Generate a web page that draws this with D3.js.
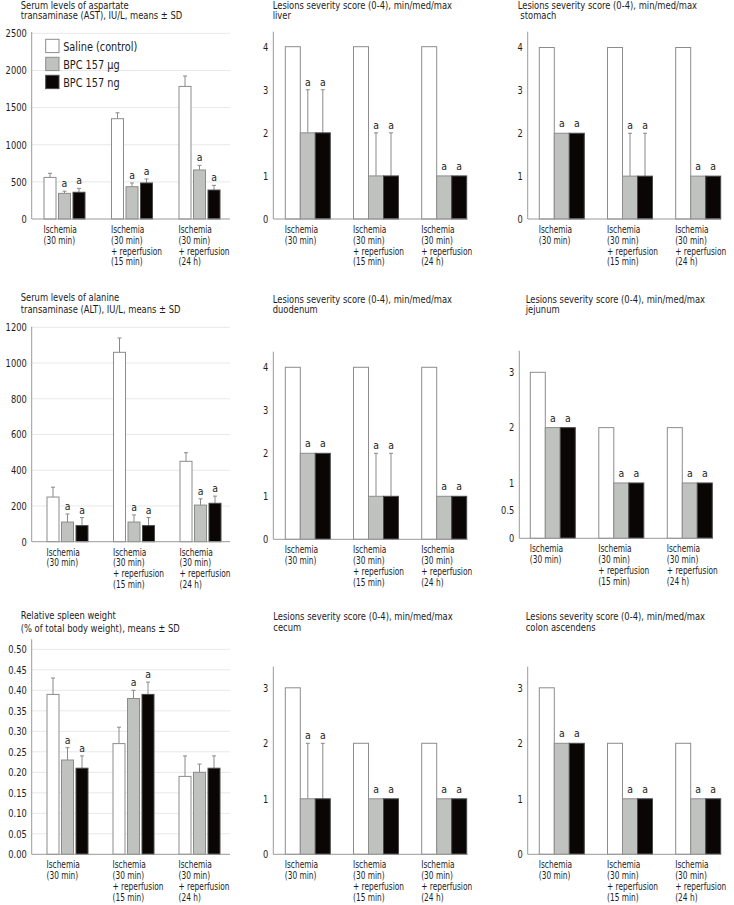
<!DOCTYPE html>
<html>
<head>
<meta charset="utf-8">
<script src="https://cdn.jsdelivr.net/npm/d3@7"></script>
<style>
  body { margin: 0; background: #fff; }
  svg { display: block; }
  text { font-family: "DejaVu Sans", Verdana, sans-serif; fill: #1c1c1c; white-space: pre; }
</style>
</head>
<body>
<svg id="chart" width="734" height="905"></svg>
<script>
// ---- data ----
const groups = ["g1", "g2", "g3"];
const groupLabels = [
  ["Ischemia", "(30 min)"],
  ["Ischemia", "(30 min)", "+ reperfusion", "(15 min)"],
  ["Ischemia", "(30 min)", "+ reperfusion", "(24 h)"]
];
const seriesNames = ["Saline (control)", "BPC 157 μg", "BPC 157 ng"];

// AST, IU/L, means ± SD
const astSaline = [560, 1350, 1785];
const astSalineSD = [55, 80, 140];
const astUg = [345, 435, 660];
const astUgSD = [30, 50, 62];
const astNg = [360, 485, 390];
const astNgSD = [52, 54, 63];
const astTicks = [0, 500, 1000, 1500, 2000, 2500];

// ALT, IU/L, means ± SD
const altSaline = [250, 1060, 450];
const altSalineSD = [55, 80, 48];
const altUg = [110, 110, 205];
const altUgSD = [45, 40, 35];
const altNg = [90, 90, 215];
const altNgSD = [45, 45, 40];
const altTicks = [0, 200, 400, 600, 800, 1000, 1200];

// relative spleen weight, means ± SD
const spleenSaline = [0.39, 0.27, 0.19];
const spleenSalineSD = [0.04, 0.04, 0.05];
const spleenUg = [0.23, 0.38, 0.20];
const spleenUgSD = [0.03, 0.02, 0.02];
const spleenNg = [0.21, 0.39, 0.21];
const spleenNgSD = [0.03, 0.03, 0.03];
const spleenTicks = [0, 0.05, 0.10, 0.15, 0.20, 0.25, 0.30, 0.35, 0.40, 0.45, 0.50];

// lesion scores, median and max
const liverSaline = [4, 4, 4];
const liverUg = [2, 1, 1];
const liverUgMax = [3, 2, 1];
const liverNg = [2, 1, 1];
const liverNgMax = [3, 2, 1];

const stomachSaline = [4, 4, 4];
const stomachUg = [2, 1, 1];
const stomachUgMax = [2, 2, 1];
const stomachNg = [2, 1, 1];
const stomachNgMax = [2, 2, 1];

const duodenumSaline = [4, 4, 4];
const duodenumUg = [2, 1, 1];
const duodenumUgMax = [2, 2, 1];
const duodenumNg = [2, 1, 1];
const duodenumNgMax = [2, 2, 1];

const jejunumSaline = [3, 2, 2];
const jejunumUg = [2, 1, 1];
const jejunumNg = [2, 1, 1];

const cecumSaline = [3, 2, 2];
const cecumUg = [1, 1, 1];
const cecumUgMax = [2, 1, 1];
const cecumNg = [1, 1, 1];
const cecumNgMax = [2, 1, 1];

const colonSaline = [3, 2, 2];
const colonUg = [2, 1, 1];
const colonNg = [2, 1, 1];

const score4Ticks = [0, 1, 2, 3, 4];
const score3Ticks = [0, 1, 2, 3];
const jejunumTicks = [0, 0.5, 1, 2, 3];

// which bars carry the "a" mark (per group: saline, μg, ng)
const marksAll = [[0, 1, 1], [0, 1, 1], [0, 1, 1]];
const marksSpleen = [[0, 1, 1], [0, 1, 1], [0, 0, 0]];

const fills = ["#ffffff", "#c0c2c0", "#0a0606"];
const strokes = ["#8c8c8c", "#8c8c8c", "#4a4a4a"];

// ---- layout ----
const lesionTitle = "Lesions severity score (0-4), min/med/max";
const panels = [
  { title: ["Serum levels of aspartate", "transaminase (AST), IU/L, means ± SD"], tx: 20.7, ty: [8.5, 19.5],
    ax: 31.7, xEnd: 230, y0: 219, yTop: 33.3, axisTop: 32, max: 2500, ticks: astTicks, fmt: d3.format("d"), grid: true,
    gx: [44, 220], bw: 12, gap: 2.5, kind: "sd",
    vals: [astSaline, astUg, astNg], err: [astSalineSD, astUgSD, astNgSD], marks: marksAll, legend: true },
  { title: [lesionTitle, "liver"], tx: 272.7, ty: [9, 19.5],
    ax: 273.3, xEnd: 467.7, y0: 219, yTop: 46.7, axisTop: 31.7, max: 4, ticks: score4Ticks, fmt: d3.format("d"),
    gx: [285.3, 466.7], bw: 15, gap: 0, kind: "range",
    vals: [liverSaline, liverUg, liverNg], err: [liverSaline, liverUgMax, liverNgMax], marks: marksAll },
  { title: [lesionTitle, " stomach"], tx: 517.7, ty: [9, 19.5],
    ax: 527.7, xEnd: 720.7, y0: 219, yTop: 47.5, axisTop: 31.7, max: 4, ticks: score4Ticks, fmt: d3.format("d"),
    gx: [539.3, 720.7], bw: 15, gap: 0, kind: "range",
    vals: [stomachSaline, stomachUg, stomachNg], err: [stomachSaline, stomachUgMax, stomachNgMax], marks: marksAll },
  { title: ["Serum levels of alanine", "transaminase (ALT), IU/L, means ± SD"], tx: 20.7, ty: [301.5, 313],
    ax: 31.7, xEnd: 230, y0: 541.7, yTop: 327.3, axisTop: 326.7, max: 1200, ticks: altTicks, fmt: d3.format("d"), grid: true,
    gx: [47, 221], bw: 12, gap: 2.5, kind: "sd",
    vals: [altSaline, altUg, altNg], err: [altSalineSD, altUgSD, altNgSD], marks: marksAll },
  { title: [lesionTitle, "duodenum"], tx: 272.7, ty: [303, 313.5],
    ax: 273.3, xEnd: 467.7, y0: 539.3, yTop: 367.3, axisTop: 351.7, max: 4, ticks: score4Ticks, fmt: d3.format("d"),
    gx: [285.3, 466.7], bw: 15, gap: 0, kind: "range",
    vals: [duodenumSaline, duodenumUg, duodenumNg], err: [duodenumSaline, duodenumUgMax, duodenumNgMax], marks: marksAll },
  { title: [lesionTitle, "jejunum"], tx: 525.7, ty: [303, 313.5],
    ax: 519.3, xEnd: 712.3, y0: 538.3, yTop: 372.3, axisTop: 350.7, max: 3, ticks: jejunumTicks, fmt: d3.format("~g"),
    gx: [530.3, 712.3], bw: 15, gap: 0, kind: "range",
    vals: [jejunumSaline, jejunumUg, jejunumNg], err: [jejunumSaline, jejunumUg, jejunumNg], marks: marksAll },
  { title: ["Relative spleen weight", "(% of total body weight), means ± SD"], tx: 20.7, ty: [619, 632.3],
    ax: 31.7, xEnd: 230, y0: 854.3, yTop: 649.3, axisTop: 639.3, max: 0.5, ticks: spleenTicks, fmt: d3.format(".2f"), grid: true,
    gx: [47, 220], bw: 12, gap: 2.5, kind: "sd",
    vals: [spleenSaline, spleenUg, spleenNg], err: [spleenSalineSD, spleenUgSD, spleenNgSD], marks: marksSpleen },
  { title: [lesionTitle, "cecum"], tx: 273.3, ty: [620.5, 631.5],
    ax: 273.3, xEnd: 467.7, y0: 854.3, yTop: 687.8, axisTop: 666.7, max: 3, ticks: score3Ticks, fmt: d3.format("d"),
    gx: [285.3, 466.7], bw: 15, gap: 0, kind: "range",
    vals: [cecumSaline, cecumUg, cecumNg], err: [cecumSaline, cecumUgMax, cecumNgMax], marks: marksAll },
  { title: [lesionTitle, "colon ascendens"], tx: 525.7, ty: [620.5, 631.5],
    ax: 527.7, xEnd: 720.7, y0: 854.3, yTop: 687.8, axisTop: 666.7, max: 3, ticks: score3Ticks, fmt: d3.format("d"),
    gx: [539.3, 720.7], bw: 15, gap: 0, kind: "range",
    vals: [colonSaline, colonUg, colonNg], err: [colonSaline, colonUg, colonNg], marks: marksAll }
];

// squash text horizontally (narrow face in the original) while keeping its anchor point
function squeeze(sel, k) {
  sel.each(function () {
    const x = +this.getAttribute("x") || 0;
    this.setAttribute("x", x / k);
    this.setAttribute("transform", `scale(${k},1)`);
  });
}

const svg = d3.select("#chart");

panels.forEach((p) => {
  const g = svg.append("g");
  const y = d3.scaleLinear().domain([0, p.max]).range([p.y0, p.yTop]);

  // group bands, sized so each group is 3 bars wide
  const W = p.gx[1] - p.gx[0];
  const groupW = 3 * p.bw + 2 * p.gap;
  const outer = d3.scaleBand().domain(groups).range(p.gx)
    .paddingInner((W - 3 * groupW) / (W - groupW)).paddingOuter(0);
  const inner = d3.scaleBand().domain([0, 1, 2]).range([0, outer.bandwidth()])
    .paddingInner(p.gap / (p.bw + p.gap)).paddingOuter(0);

  // title
  g.selectAll(".title").data(p.title).join("text")
    .attr("x", p.tx).attr("y", (d, i) => p.ty[i])
    .style("font-size", "10px").text((d) => d)
    .call(squeeze, 0.84);

  // gridlines
  if (p.grid) {
    g.selectAll(".grid").data(p.ticks.filter((t) => t > 0)).join("line")
      .attr("x1", p.ax).attr("x2", p.xEnd)
      .attr("y1", (d) => y(d)).attr("y2", (d) => y(d))
      .attr("stroke", "#e8e8e8").attr("stroke-width", 1);
  }

  // y axis
  const yAxis = d3.axisLeft(y).tickValues(p.ticks).tickSize(0).tickPadding(5).tickFormat(p.fmt);
  const ya = g.append("g").attr("transform", `translate(${p.ax},0)`).call(yAxis);
  ya.select(".domain").remove();
  ya.selectAll("text").style("font-size", "10.5px").style("font-family", null)
    .attr("fill", "#1c1c1c").call(squeeze, 0.79);
  g.append("line").attr("x1", p.ax).attr("x2", p.ax).attr("y1", p.axisTop).attr("y2", p.y0)
    .attr("stroke", "#9a9a9a");

  // bars
  const rows = [];
  groups.forEach((gk, gi) => {
    [0, 1, 2].forEach((si) => {
      const v = p.vals[si][gi];
      const top = p.kind === "sd" ? v + p.err[si][gi] : p.err[si][gi];
      rows.push({ gk, gi, si, v, top, mark: p.marks[gi][si] });
    });
  });

  const bx = (d) => outer(d.gk) + inner(d.si);
  const cx = (d) => bx(d) + inner.bandwidth() / 2;

  // whiskers (upper only)
  const wh = rows.filter((d) => d.top > d.v);
  g.selectAll(".whisk").data(wh).join("line")
    .attr("x1", cx).attr("x2", cx)
    .attr("y1", (d) => y(d.v)).attr("y2", (d) => y(d.top))
    .attr("stroke", "#8a8a8a").attr("stroke-width", 1);
  g.selectAll(".cap").data(wh).join("line")
    .attr("x1", (d) => cx(d) - 2).attr("x2", (d) => cx(d) + 2)
    .attr("y1", (d) => y(d.top)).attr("y2", (d) => y(d.top))
    .attr("stroke", "#8a8a8a").attr("stroke-width", 1);

  g.selectAll(".bar").data(rows).join("rect")
    .attr("x", bx).attr("width", inner.bandwidth())
    .attr("y", (d) => y(d.v)).attr("height", (d) => p.y0 - y(d.v))
    .attr("fill", (d) => fills[d.si]).attr("stroke", (d) => strokes[d.si]).attr("stroke-width", 1);

  // "a" marks
  g.selectAll(".mark").data(rows.filter((d) => d.mark)).join("text")
    .attr("x", cx)
    .attr("y", (d) => (d.top > d.v ? y(d.top) - 4 : y(d.v) - 6))
    .attr("text-anchor", "middle").style("font-size", "11px").text("a")
    .call(squeeze, 0.85);

  // x axis
  g.append("line").attr("x1", p.ax).attr("x2", p.xEnd).attr("y1", p.y0).attr("y2", p.y0)
    .attr("stroke", "#9a9a9a");
  groups.forEach((gk, gi) => {
    g.selectAll(null).data(groupLabels[gi]).join("text")
      .attr("x", outer(gk) - 0.5)
      .attr("y", (d, i) => p.y0 + 14 + i * 10.8)
      .style("font-size", "10.5px").text((d) => d)
      .call(squeeze, 0.71);
  });

  // legend
  if (p.legend) {
    const lg = g.append("g").attr("transform", "translate(45.7,39.3)");
    const item = lg.selectAll("g").data(seriesNames).join("g")
      .attr("transform", (d, i) => `translate(0,${i * 18})`);
    item.append("rect").attr("width", 13.3).attr("height", 13.3)
      .attr("fill", (d, i) => fills[i]).attr("stroke", (d, i) => strokes[i]);
    item.append("text").attr("x", 17.5).attr("y", 11.3)
      .style("font-size", "12.5px").text((d) => d)
      .call(squeeze, 0.78);
  }
});
</script>
</body>
</html>
